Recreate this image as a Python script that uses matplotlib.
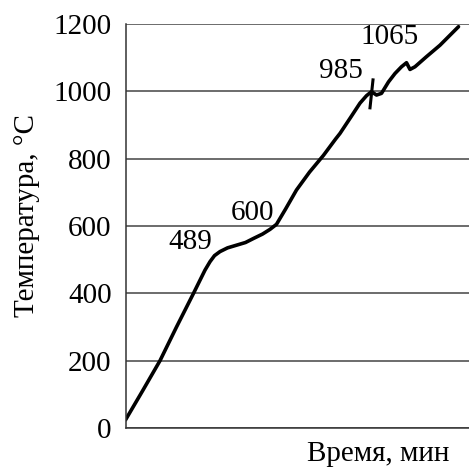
import matplotlib
matplotlib.use("Agg")
import matplotlib.pyplot as plt

# Data (time in arbitrary units, temperature in °C)
time = [0, 17, 34.5, 51, 68, 75, 79.5, 84.5, 89, 94.5, 102, 111, 120, 128, 137, 144.5,
        151, 160, 171, 184, 198, 210, 214.5, 225, 234.5, 241, 246, 251, 256, 263,
        269.5, 276, 281, 284.5, 289.5, 301, 314.5, 333]
temp = [24, 110, 200, 300, 400, 442, 469, 494, 512, 524, 535, 543, 551, 563, 576, 590,
        605, 650, 707, 760, 810, 858, 875, 922, 965, 987, 999, 989, 994, 1028,
        1053, 1073, 1085, 1065, 1073, 1103, 1137, 1192]

# Cross mark at 985
cross_time = [247.5, 244.5]
cross_temp = [1034, 951]

ann_labels = ["489", "600", "985", "1065"]
ann_time = [64.5, 127, 215.5, 264.5]
ann_temp = [553, 638, 1060, 1162]

yticks = [0, 200, 400, 600, 800, 1000, 1200]

plt.rcParams['font.family'] = ['Liberation Serif', 'DejaVu Serif']
FS = 21

fig = plt.figure(figsize=(4.69, 4.68), dpi=100)
ax = fig.add_axes([125.5/469, 1-428/468, 1-125.5/469, (428-24)/468])

ax.plot(time, temp, color='black', lw=2.6, solid_capstyle='round', solid_joinstyle='round')
ax.plot(cross_time, cross_temp, color='black', lw=2.2)

for lab, x, y in zip(ann_labels, ann_time, ann_temp):
    ax.text(x, y, lab, fontsize=FS, ha='center', va='center')

ax.set_xlim(0, 343.5)
ax.set_ylim(0, 1200)
ax.set_yticks(yticks)
ax.set_yticklabels([str(v) for v in yticks], fontsize=FS)
ax.set_xticks([])
ax.tick_params(axis='y', length=0, pad=10)
ax.grid(axis='y', color='#444444', lw=1.1)
ax.set_axisbelow(True)
for s in ['top', 'right']:
    ax.spines[s].set_visible(False)
for s in ['left', 'bottom']:
    ax.spines[s].set_color('#333333')
    ax.spines[s].set_linewidth(1.1)

ax.set_ylabel('Температура, °С', fontsize=FS)
ax.yaxis.set_label_coords((40 - 125.5) / 343.5, (428 - 216) / 404)
fig.text(378/469, 1-454/468, 'Время, мин', fontsize=FS, ha='center', va='center')

fig.savefig('out.png', dpi=100)
